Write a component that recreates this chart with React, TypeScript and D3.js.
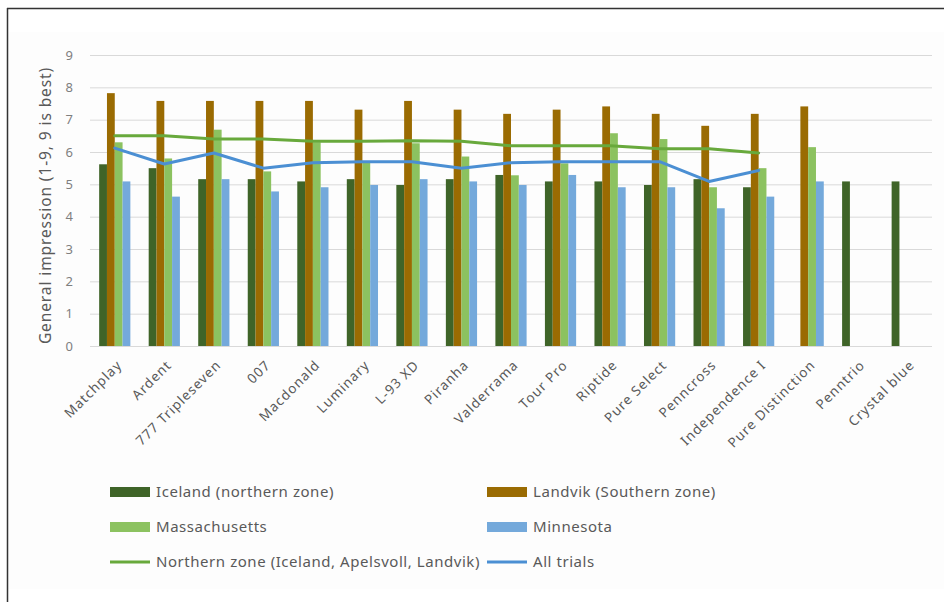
import React, { useEffect, useRef } from 'react';
import * as d3 from 'd3';

const categories = [
  'Matchplay', 'Ardent', '777 Tripleseven', '007', 'Macdonald', 'Luminary', 'L-93 XD',
  'Piranha', 'Valderrama', 'Tour Pro', 'Riptide', 'Pure Select', 'Penncross',
  'Independence I', 'Pure Distinction', 'Penntrio', 'Crystal blue'
];

const iceland = [5.62, 5.5, 5.16, 5.16, 5.09, 5.16, 4.98, 5.16, 5.29, 5.09, 5.09, 4.98, 5.16, 4.91, null, 5.09, 5.09];
const landvik = [7.82, 7.58, 7.58, 7.58, 7.58, 7.31, 7.58, 7.31, 7.18, 7.31, 7.41, 7.18, 6.81, 7.18, 7.41, null, null];
const massachusetts = [6.3, 5.8, 6.69, 5.4, 6.3, 5.68, 6.27, 5.86, 5.28, 5.65, 6.58, 6.4, 4.91, 5.5, 6.15, null, null];
const minnesota = [5.09, 4.62, 5.16, 4.78, 4.91, 4.98, 5.16, 5.09, 4.98, 5.29, 4.91, 4.91, 4.26, 4.62, 5.09, null, null];
const northernZone = [6.5, 6.5, 6.4, 6.4, 6.33, 6.33, 6.35, 6.33, 6.19, 6.19, 6.19, 6.1, 6.1, 5.97, null, null, null];
const allTrials = [6.12, 5.63, 5.97, 5.5, 5.67, 5.7, 5.7, 5.5, 5.67, 5.7, 5.7, 5.7, 5.09, 5.43, null, null, null];

const yTicks = [0, 1, 2, 3, 4, 5, 6, 7, 8, 9];

const barSeries = [
  { name: 'Iceland (northern zone)', values: iceland, color: '#3f6428' },
  { name: 'Landvik (Southern zone)', values: landvik, color: '#9a6b02' },
  { name: 'Massachusetts', values: massachusetts, color: '#8cc260' },
  { name: 'Minnesota', values: minnesota, color: '#74a9db' },
];
const lineSeries = [
  { name: 'Northern zone (Iceland, Apelsvoll, Landvik)', values: northernZone, color: '#68a93c' },
  { name: 'All trials', values: allTrials, color: '#4b8fd3' },
];

const W = 944;
const H = 602;
const plot = { left: 90, right: 932, top: 55, bottom: 346 };
const font = '"Noto Sans", "Open Sans", sans-serif';

const App: React.FC = () => {
  const svgRef = useRef<SVGSVGElement>(null);

  useEffect(() => {
    if (!svgRef.current) return;
    const svg = d3.select(svgRef.current);
    svg.selectAll('*').remove();

    // frame
    svg.append('rect').attr('x', 8).attr('y', 32).attr('width', W - 8).attr('height', 557).attr('fill', '#fdfdfd');
    svg.append('line').attr('x1', 7).attr('x2', W).attr('y1', 8.5).attr('y2', 8.5).attr('stroke', '#333').attr('stroke-width', 1.5);
    svg.append('line').attr('x1', 7.5).attr('x2', 7.5).attr('y1', 8).attr('y2', H).attr('stroke', '#333').attr('stroke-width', 1.5);

    const x0 = d3.scaleBand<string>()
      .domain(categories)
      .range([plot.left, plot.right])
      .paddingInner(0.37)
      .paddingOuter(0.185);
    const x1 = d3.scaleBand<number>()
      .domain(d3.range(barSeries.length))
      .range([0, x0.bandwidth()]);
    const y = d3.scaleLinear().domain([0, 9]).range([plot.bottom, plot.top]);

    // gridlines
    svg.append('g').selectAll('line')
      .data(yTicks)
      .join('line')
      .attr('x1', plot.left).attr('x2', plot.right)
      .attr('y1', d => y(d) + 0.5).attr('y2', d => y(d) + 0.5)
      .attr('stroke', '#d9d9d9').attr('stroke-width', 1);

    // y tick labels
    svg.append('g').selectAll('text')
      .data(yTicks)
      .join('text')
      .attr('x', 73).attr('y', d => y(d))
      .attr('dy', '0.35em')
      .attr('text-anchor', 'end')
      .attr('font-family', font).attr('font-size', 13).attr('fill', '#7f7f7f')
      .text(d => d);

    svg.append('text')
      .attr('transform', `translate(51,${(plot.top + plot.bottom) / 2 + 5}) rotate(-90)`)
      .attr('text-anchor', 'middle')
      .attr('font-family', font).attr('font-size', 15.5).attr('fill', '#595959')
      .attr('letter-spacing', 0.9)
      .text('General impression (1-9, 9 is best)');

    // bars
    barSeries.forEach((s, si) => {
      svg.append('g').selectAll('rect')
        .data(categories.map((c, i) => ({ c, v: s.values[i] })).filter(d => d.v != null))
        .join('rect')
        .attr('x', d => (x0(d.c) as number) + (x1(si) as number))
        .attr('width', x1.bandwidth())
        .attr('y', d => y(d.v as number))
        .attr('height', d => y(0) - y(d.v as number))
        .attr('fill', s.color);
    });

    // lines
    const cx = (c: string) => (x0(c) as number) + x0.bandwidth() / 2;
    lineSeries.forEach(s => {
      const pts = categories.map((c, i) => ({ c, v: s.values[i] })).filter(d => d.v != null);
      const line = d3.line<{ c: string; v: number | null }>()
        .x(d => cx(d.c))
        .y(d => y(d.v as number));
      svg.append('path')
        .datum(pts)
        .attr('d', line)
        .attr('fill', 'none')
        .attr('stroke', s.color)
        .attr('stroke-width', 3)
        .attr('stroke-linejoin', 'round')
        .attr('stroke-linecap', 'round');
    });

    // category labels
    svg.append('g').selectAll('text')
      .data(categories)
      .join('text')
      .attr('transform', d => `translate(${cx(d) + 8},${plot.bottom + 20}) rotate(-45)`)
      .attr('text-anchor', 'end')
      .attr('font-family', font).attr('font-size', 13.5).attr('fill', '#595959')
      .attr('letter-spacing', 1)
      .text(d => d);

    // legend
    const legendItems = [
      { ...barSeries[0], kind: 'bar', col: 0, row: 0 },
      { ...barSeries[1], kind: 'bar', col: 1, row: 0 },
      { ...barSeries[2], kind: 'bar', col: 0, row: 1 },
      { ...barSeries[3], kind: 'bar', col: 1, row: 1 },
      { ...lineSeries[0], kind: 'line', col: 0, row: 2 },
      { ...lineSeries[1], kind: 'line', col: 1, row: 2 },
    ];
    const colX = [110, 487];
    const rowY = [492, 527, 562];
    const lg = svg.append('g');
    legendItems.forEach(it => {
      const lx = colX[it.col];
      const ly = rowY[it.row];
      if (it.kind === 'bar') {
        lg.append('rect').attr('x', lx).attr('y', ly - 5).attr('width', 40).attr('height', 10).attr('fill', it.color);
      } else {
        lg.append('line').attr('x1', lx).attr('x2', lx + 40).attr('y1', ly).attr('y2', ly)
          .attr('stroke', it.color).attr('stroke-width', 3);
      }
      lg.append('text')
        .attr('x', lx + 46).attr('y', ly).attr('dy', '0.35em')
        .attr('font-family', font).attr('font-size', 15).attr('fill', '#595959')
        .attr('letter-spacing', 0.55)
        .text(it.name);
    });
  }, []);

  return (
    <div style={{ position: 'fixed', left: 0, top: 0, width: W, height: H, background: '#fff' }}>
      <svg ref={svgRef} width={W} height={H} style={{ display: 'block' }} />
    </div>
  );
};

export default App;
